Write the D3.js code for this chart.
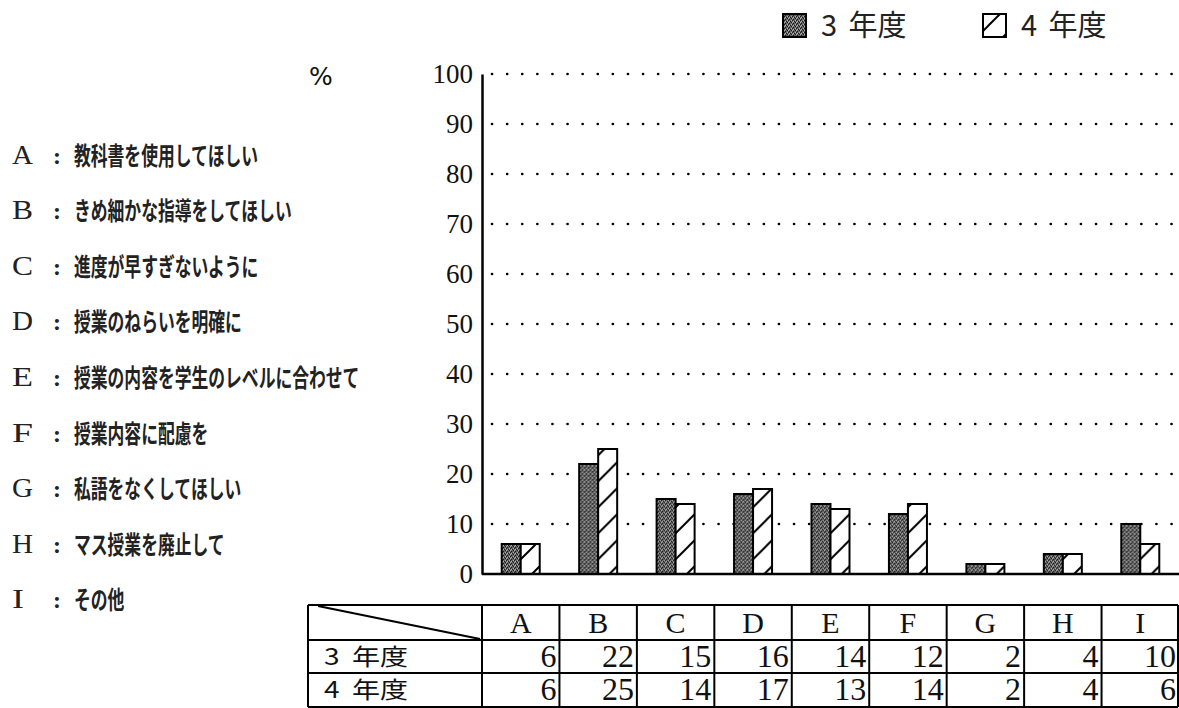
<!DOCTYPE html>
<html><head><meta charset="utf-8">
<script src="https://cdn.jsdelivr.net/npm/d3@7"></script>
<style>
html,body{margin:0;padding:0;background:#fff;}
svg{display:block;}
</style></head>
<body>
<svg id="chart" width="1179" height="708"></svg>
<script>
const categories = ["A","B","C","D","E","F","G","H","I"];
const descriptions = ["教科書を使用してほしい","きめ細かな指導をしてほしい","進度が早すぎないように","授業のねらいを明確に","授業の内容を学生のレベルに合わせて","授業内容に配慮を","私語をなくしてほしい","マス授業を廃止して","その他"];
const seriesYears = ["3","4"];
const seriesNames = ["3 年度","4 年度"];
const values3 = [6,22,15,16,14,12,2,4,10];
const values4 = [6,25,14,17,13,14,2,4,6];
const yTicks = [0,10,20,30,40,50,60,70,80,90,100];

const svg = d3.select("#chart");
const serif = "'Liberation Serif','DejaVu Serif',serif";
const jp = "'Noto Sans CJK JP',sans-serif";

// patterns
const defs = svg.append("defs");
const dark = defs.append("pattern").attr("id","dark").attr("patternUnits","userSpaceOnUse")
  .attr("width",4).attr("height",4);
dark.append("rect").attr("width",4).attr("height",4).attr("fill","#666");
[[0,0],[2,1],[1,3],[3,2]].forEach(([x,y])=>dark.append("rect").attr("x",x).attr("y",y).attr("width",1).attr("height",1).attr("fill","#1a1a1a"));
[[1,1],[3,0],[0,2]].forEach(([x,y])=>dark.append("rect").attr("x",x).attr("y",y).attr("width",1).attr("height",1).attr("fill","#b0b0b0"));
const hatch = defs.append("pattern").attr("id","hatch").attr("patternUnits","userSpaceOnUse")
  .attr("width",26).attr("height",26);
hatch.append("rect").attr("width",26).attr("height",26).attr("fill","#fff");
hatch.append("path").attr("d","M-2,28 L28,-2 M-15,15 L15,-15 M11,41 L41,11").attr("stroke","#000").attr("stroke-width",2);
const fills = ["url(#dark)","url(#hatch)"];

// scales
const x = d3.scaleBand().domain(categories).range([482,1179]).paddingInner(0).paddingOuter(0);
const xs = d3.scaleBand().domain(seriesNames).range([(x.bandwidth()-38)/2,(x.bandwidth()+38)/2]);
const y = d3.scaleLinear().domain([0,100]).range([574,74]);

// gridlines (dotted)
const grid = svg.append("g");
yTicks.filter(t=>t>0).forEach(t=>{
  grid.append("line").attr("x1",492).attr("x2",1179).attr("y1",y(t)).attr("y2",y(t))
    .attr("stroke","#000").attr("stroke-width",2.6).attr("stroke-linecap","round")
    .attr("stroke-dasharray","0.1 15");
});

// y axis
const yAxis = d3.axisLeft(y).tickValues(yTicks).tickSize(0).tickPadding(9);
const ga = svg.append("g").attr("transform","translate(482,0)").call(yAxis);
ga.select(".domain").attr("stroke","#000").attr("stroke-width",2.5);
ga.selectAll("text").attr("font-family",serif).attr("font-size",27).attr("fill","#111").attr("dy","0.33em");
svg.append("text").attr("x",309).attr("y",85).attr("font-family","'DejaVu Sans',sans-serif").attr("font-size",25).attr("fill","#111").text("%");

// bars
const data = categories.map((c,i)=>({cat:c, vals:[values3[i],values4[i]]}));
const groups = svg.append("g").selectAll("g").data(data).join("g")
  .attr("transform",d=>`translate(${x(d.cat)},0)`);
groups.selectAll("rect").data(d=>d.vals.map((v,j)=>({v,s:seriesNames[j],j}))).join("rect")
  .attr("x",d=>xs(d.s)).attr("width",xs.bandwidth())
  .attr("y",d=>y(d.v)).attr("height",d=>y(0)-y(d.v))
  .attr("fill",d=>fills[d.j]).attr("stroke","#000").attr("stroke-width",2);

// baseline
svg.append("line").attr("x1",482).attr("x2",1179).attr("y1",y(0)).attr("y2",y(0)).attr("stroke","#000").attr("stroke-width",2.5);

// helper: "3 年度" with year digit spaced from 年度
function yearLabel(g, xPos, yPos, i, fs, gap, scaleX){
  const t = g.append("text").attr("transform",`translate(${xPos},${yPos}) scale(${scaleX||1},1)`)
    .attr("font-family",jp).attr("font-size",fs).attr("fill","#222");
  t.append("tspan").text(seriesYears[i] + " ");
  t.append("tspan").attr("dx",gap).text(seriesNames[i].split(" ")[1]);
  return t;
}

// legend top
const lg = svg.append("g");
seriesNames.forEach((s,i)=>{
  const lx = [783,983][i];
  lg.append("rect").attr("x",lx).attr("y",14).attr("width",23).attr("height",23)
    .attr("fill",fills[i]).attr("stroke","#000").attr("stroke-width",2);
  yearLabel(lg, lx+38, 36, i, 29, 5);
});

// left descriptions
const desc = svg.append("g");
const sx = 0.672;
categories.forEach((c,i)=>{
  const cy = 155.5 + i*55.6;
  desc.append("text").attr("x",12).attr("y",cy+8).attr("font-family",serif).attr("font-size",27).attr("fill","#222")
    .attr("textLength",c==="I"?12:21).attr("lengthAdjust","spacingAndGlyphs").text(c);
  desc.append("text").attr("x",57).attr("y",cy+8).attr("text-anchor","middle").attr("font-family",serif).attr("font-size",24).attr("font-weight","bold").attr("fill","#222").text(":");
  desc.append("text").attr("transform",`translate(74,${cy+9}) scale(${sx},1)`)
    .attr("font-family",jp).attr("font-size",25).attr("font-weight","bold")
    .attr("fill","#222").text(descriptions[i]);
});

// table
const tb = svg.append("g");
const rowsY = [605,640,673,707];
const tLeft = 308, tRight = 1178;
rowsY.forEach(ry=>tb.append("line").attr("x1",tLeft).attr("x2",tRight).attr("y1",ry).attr("y2",ry).attr("stroke","#000").attr("stroke-width",2));
[tLeft, ...categories.map(c=>x(c)), tRight].forEach(cx=>tb.append("line").attr("x1",cx).attr("x2",cx).attr("y1",605).attr("y2",707).attr("stroke","#000").attr("stroke-width",2));
tb.append("line").attr("x1",tLeft+10).attr("y1",606).attr("x2",480).attr("y2",639).attr("stroke","#000").attr("stroke-width",2);
categories.forEach(c=>{
  tb.append("text").attr("x",x(c)+x.bandwidth()/2).attr("y",633).attr("text-anchor","middle")
    .attr("font-family",serif).attr("font-size",30).attr("fill","#111").text(c);
});
[values3,values4].forEach((vals,r)=>{
  yearLabel(tb, 324, rowsY[r+1]+25, r, 23, 5, 1.22).attr("fill","#111");
  vals.forEach((v,i)=>{
    tb.append("text").attr("x",x(categories[i])+x.bandwidth()-3).attr("y",rowsY[r+1]+27).attr("text-anchor","end")
      .attr("font-family",serif).attr("font-size",32).attr("fill","#111").text(v);
  });
});
</script>
</body></html>
